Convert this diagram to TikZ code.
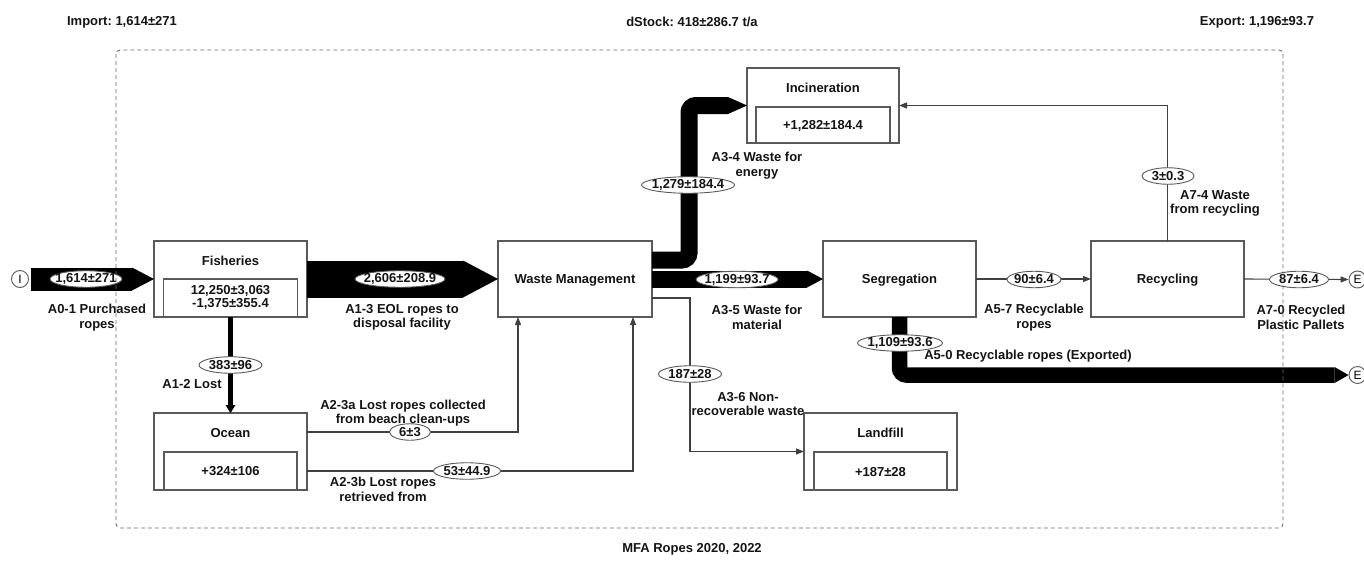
\documentclass[tikz,border=0pt]{standalone}
\usepackage{fontspec}
\setmainfont{Liberation Sans}
\usetikzlibrary{arrows.meta,shapes.geometric}
\definecolor{boxline}{HTML}{5A5A5A}
\definecolor{thinline}{HTML}{404040}
\definecolor{txtc}{HTML}{141414}
\frenchspacing
\begin{document}
\begin{tikzpicture}[x=1pt,y=-1pt,
  base/.style={font=\bfseries\fontsize{13}{14.5}\selectfont, text=txtc},
  box/.style={draw=boxline, line width=1.1pt, fill=white, inner sep=0pt, outer sep=0pt},
  txt/.style={base, inner sep=0pt, align=center},
  flowlab/.style={base, ellipse, draw=boxline, line width=0.9pt, fill=white, inner xsep=-12pt, inner ysep=-2pt, minimum height=16.5pt},
  thinarr/.style={draw=thinline, line width=1.1pt, -{Triangle[length=8pt,width=6pt]}},
  fat/.style={draw=black, line cap=butt},
  endpt/.style={circle, draw=boxline, line width=0.9pt, fill=white, minimum size=17pt, inner sep=0pt, font=\fontsize{12}{12}\selectfont},
  frame/.style={draw=gray!85!black, line width=0.9pt, dash pattern=on 4pt off 3pt, rounded corners=4pt}
]
\useasboundingbox (0,0) rectangle (1364,562);

% headings
\node[txt] (imp) at (122,22) {Import: 1,614±271};
\node[txt] (dst) at (692,22) {dStock: 418±286.7 t/a};
\node[txt] (exp) at (1257,22) {Export: 1,196±93.7};
\node[txt] (mfa) at (692,549) {MFA Ropes 2020, 2022};

% process boxes
\node[box, minimum width=153pt, minimum height=76pt] (fish) at (230.5,279) {};
\node[box, minimum width=134pt, minimum height=38pt] (fishv) at (230.5,298) {};
\node[txt] (fisht) at (230.5,261) {Fisheries};
\node[txt, font=\bfseries\fontsize{13}{13}\selectfont] (fishn) at (230.5,297) {12,250±3,063\\-1,375±355.4};

\node[box, minimum width=153pt, minimum height=77pt] (ocean) at (230.5,451.5) {};
\node[box, minimum width=133pt, minimum height=38pt] (oceanv) at (230.5,471) {};
\node[txt] (oceant) at (230.5,433) {Ocean};
\node[txt] (oceann) at (230.5,471) {+324±106};

\node[box, minimum width=154pt, minimum height=76pt] (wm) at (575,279) {};
\node[txt] (wmt) at (575,280) {Waste Management};

\node[box, minimum width=152pt, minimum height=75pt] (inc) at (823,105.5) {};
\node[box, minimum width=134pt, minimum height=36pt] (incv) at (823,125) {};
\node[txt] (inct) at (823,88) {Incineration};
\node[txt] (incn) at (823,126) {+1,282±184.4};

\node[box, minimum width=153pt, minimum height=77pt] (land) at (880.5,451.5) {};
\node[box, minimum width=133pt, minimum height=38pt] (landv) at (880.5,471) {};
\node[txt] (landt) at (880.5,433) {Landfill};
\node[txt] (landn) at (880.5,472) {+187±28};

\node[box, minimum width=153pt, minimum height=76pt] (seg) at (899.5,279) {};
\node[txt] (segt) at (899.5,280) {Segregation};

\node[box, minimum width=153pt, minimum height=76pt] (rec) at (1167.5,279) {};
\node[txt] (rect) at (1167.5,280) {Recycling};

% system boundary end points
\node[endpt] (I) at (20,279) {I};
\node[endpt] (E1) at (1357.5,279.5) {E};
\node[endpt] (E2) at (1357.5,375) {E};

% thick flows
\draw[fat, line width=23pt, shorten <=2pt, -{Triangle[length=22pt,width=23pt,line width=0pt]}] (I.east) -- (fish.west);
\draw[fat, line width=37pt, -{Triangle[length=35pt,width=37pt,line width=0pt]}] (fish.east) -- (wm.west);
\draw[fat, line width=17pt, rounded corners=7pt, -{Triangle[length=19pt,width=17pt,line width=0pt]}] ([yshift=19pt]wm.east) -| ([xshift=-58pt]inc.west) -- (inc.west);
\draw[fat, line width=17pt, -{Triangle[length=16pt,width=17pt,line width=0pt]}] (wm.east) -- (seg.west);
\draw[fat, line width=15.5pt, rounded corners=7pt, -{Triangle[length=14pt,width=16pt,line width=0pt]}] (seg.south) |- (E2.west);
\draw[fat, line width=5pt, -{Triangle[length=8pt,width=10pt,line width=0pt]}] (fish.south) -- (ocean.north);

% thin flows
\draw[thinarr] ([yshift=19.5pt]ocean.east) -| ([xshift=-57pt]wm.south);
\draw[thinarr] ([yshift=-19.5pt]ocean.east) -| ([xshift=58pt]wm.south);
\draw[thinarr] ([yshift=-19pt]wm.east) -| ([xshift=-114pt]land.west) -- (land.west);
\draw[thinarr] (seg.east) -- (rec.west);
\draw[thinarr] (rec.east) -- (E1.west);
\draw[thinarr] (rec.north) |- (inc.east);

% flow values
\node[flowlab, minimum width=72pt] (v01) at (86,279) {1,614±271};
\node[flowlab, minimum width=90pt] (v13) at (400,279) {2,606±208.9};
\node[flowlab, minimum width=63pt] (v12) at (230.5,365) {383±96};
\node[flowlab, minimum width=41pt] (v23a) at (410,432) {6±3};
\node[flowlab, minimum width=67pt] (v23b) at (467,471) {53±44.9};
\node[flowlab, minimum width=93pt] (v34) at (688,185) {1,279±184.4};
\node[flowlab, minimum width=82pt] (v35) at (737,279.5) {1,199±93.7};
\node[flowlab, minimum width=63pt] (v36) at (690,374) {187±28};
\node[flowlab, minimum width=85pt] (v50) at (900,343) {1,109±93.6};
\node[flowlab, minimum width=54pt] (v57) at (1034,279.5) {90±6.4};
\node[flowlab, minimum width=59pt] (v70) at (1299,279.5) {87±6.4};
\node[flowlab, minimum width=52pt] (v74) at (1168,176) {3±0.3};

% flow names
\node[txt] (l01) at (97,317.5) {A0-1 Purchased\\ropes};
\node[txt] (l13) at (402,317.5) {A1-3 EOL ropes to\\disposal facility};
\node[txt] (l12) at (192,384) {A1-2 Lost};
\node[txt] (l23a) at (403,413) {A2-3a Lost ropes collected\\from beach clean-ups};
\node[txt] (l23b) at (383,489.5) {A2-3b Lost ropes\\retrieved from};
\node[txt] (l34) at (757,165.5) {A3-4 Waste for\\energy};
\node[txt] (l35) at (757,317.5) {A3-5 Waste for\\material};
\node[txt] (l36) at (748,404) {A3-6 Non-\\recoverable waste};
\node[txt] (l50) at (1028,356) {A5-0 Recyclable ropes (Exported)};
\node[txt] (l57) at (1034,317.5) {A5-7 Recyclable\\ropes};
\node[txt] (l70) at (1301,317.5) {A7-0 Recycled\\Plastic Pallets};
\node[txt] (l74) at (1215,203.5) {A7-4 Waste\\from recycling};

% system boundary
\draw[frame] (116,50) rectangle (1283,528);
\end{tikzpicture}
\end{document}
